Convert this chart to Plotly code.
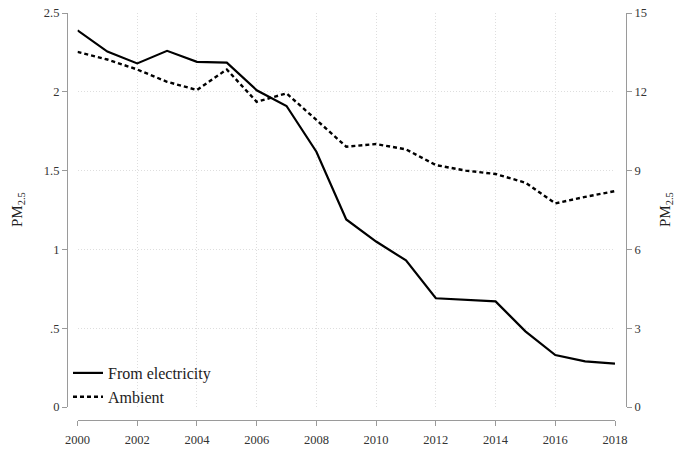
import plotly.graph_objects as go

years = list(range(2000, 2019))
from_electricity = [2.39, 2.255, 2.18, 2.26, 2.19, 2.185, 2.01, 1.91, 1.62, 1.19,
                    1.05, 0.93, 0.69, 0.68, 0.67, 0.48, 0.33, 0.29, 0.275]
ambient = [13.52, 13.23, 12.85, 12.38, 12.07, 12.85, 11.62, 11.94, 10.93, 9.91,
           10.01, 9.81, 9.21, 9.0, 8.87, 8.54, 7.75, 8.0, 8.22]

x_ticks = list(range(2000, 2019, 2))
left_ticks = [0, 0.5, 1, 1.5, 2, 2.5]
left_text = ["0", ".5", "1", "1.5", "2", "2.5"]
right_ticks = [0, 3, 6, 9, 12, 15]

FONT = "Liberation Serif"
W, H = 674, 449
L, R, T, B = 67, 48, 13, 29
pw = W - L - R
ph = H - T - B

def px_x(p):
    return (p - L) / pw

def px_y(p):
    return (H - B - p) / ph

fig = go.Figure()
fig.add_trace(go.Scatter(x=years, y=from_electricity, mode="lines", name="From electricity",
                         line=dict(color="black", width=2.2), yaxis="y"))
fig.add_trace(go.Scatter(x=years, y=ambient, mode="lines", name="Ambient",
                         line=dict(color="black", width=2.4, dash="4px,3px"), yaxis="y2"))

axis_common = dict(showline=True, linecolor="#9a9a9a", linewidth=1.2, ticks="outside",
                   ticklen=5, tickcolor="#9a9a9a", tickwidth=1.2,
                   tickfont=dict(family=FONT, size=12.5, color="#333333"),
                   zeroline=False, automargin=False)

GRID = dict(showgrid=True, gridcolor="#dedede", griddash="1px,2px", gridwidth=1)

fig.update_layout(
    width=W, height=H,
    margin=dict(l=L, r=R, t=T, b=B, autoexpand=False),
    paper_bgcolor="white", plot_bgcolor="white",
    showlegend=True,
    legend=dict(x=px_x(68), y=px_y(356), xanchor="left", yanchor="top",
                font=dict(family=FONT, size=16, color="#222222"),
                bgcolor="rgba(0,0,0,0)", itemwidth=30, tracegroupgap=0),
    xaxis=dict(range=[2000, 2018], domain=[px_x(77.5), px_x(615)],
               anchor="free", position=0, ticklabelstandoff=3,
               tickvals=x_ticks, **GRID, **axis_common),
    yaxis=dict(range=[0, 2.5], domain=[px_y(407), 1], anchor="free", position=0,
               tickvals=left_ticks, ticktext=left_text, **GRID, **axis_common),
    yaxis2=dict(range=[0, 15], domain=[px_y(407), 1], anchor="free", position=1,
                overlaying="y", side="right", tickvals=right_ticks, showgrid=False,
                **axis_common),
    hovermode=False,
)

fig.add_annotation(x=px_x(18), y=px_y(210), xref="paper", yref="paper",
                   xanchor="center", yanchor="middle",
                   text="PM<sub>2.5</sub>", textangle=-90, showarrow=False,
                   font=dict(family=FONT, size=15, color="#222222"))
fig.add_annotation(x=px_x(666), y=px_y(210), xref="paper", yref="paper",
                   xanchor="center", yanchor="middle",
                   text="PM<sub>2.5</sub>", textangle=-90, showarrow=False,
                   font=dict(family=FONT, size=15, color="#222222"))

fig.write_html("out.html")
